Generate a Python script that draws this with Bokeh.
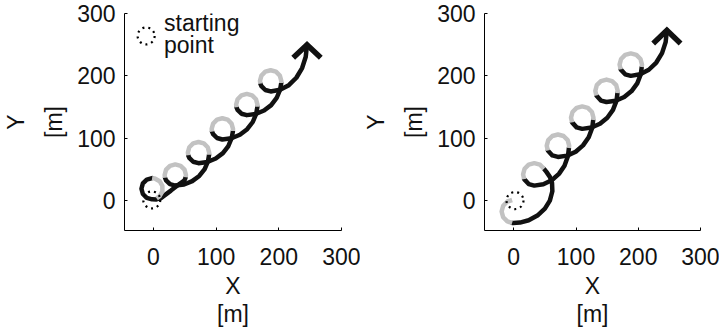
from bokeh.plotting import figure
from bokeh.layouts import row
from bokeh.models import Range1d
from bokeh.core.properties import value
from bokeh.embed import file_html
from bokeh.resources import INLINE

FONT = "Liberation Sans"
FS = "23px"
BLACK = "#111111"
GRAY = "#c2c2c2"

# ---------------- data ----------------
X_TICKS = [0, 100, 200, 300]
Y_TICKS = [0, 100, 200, 300]
X_LABEL = "X\n[m]"
Y_LABEL = "Y\n[m]"
LEGEND_TEXT = ["starting", "point"]
LEGEND_X = [17, 17]
LEGEND_Y = [284, 249]
LEGEND_MARK_X = [-11.5]
LEGEND_MARK_Y = [264]

# left panel: trajectory, split into gray and black pieces
L_GRAY_X = [
    [5.2, 10, 14.4, 14.4, 10, 2.4, -2],
    [51.6, 52, 49.7, 43.5, 35, 26.5, 20.3, 18, 18.6],
    [88.9, 89, 86.7, 80.5, 72, 63.5, 57.3, 55, 55.6],
    [126.9, 127, 124.7, 118.5, 110, 101.5, 95.3, 93, 93.6],
    [165.9, 166, 163.7, 157.5, 149, 140.5, 134.3, 132, 132.6],
    [203.9, 204, 201.7, 195.5, 187, 178.5, 172.3, 170, 170.6],
]
L_GRAY_Y = [
    [3.6, 7, 14.6, 23.4, 31, 35.4, 36],
    [37.5, 41, 49.5, 55.7, 58, 55.7, 49.5, 41, 36.6],
    [73.5, 77, 85.5, 91.7, 94, 91.7, 85.5, 77, 72.6],
    [111.5, 115, 123.5, 129.7, 132, 129.7, 123.5, 115, 110.6],
    [150.5, 154, 162.5, 168.7, 171, 168.7, 162.5, 154, 149.6],
    [188.5, 192, 200.5, 206.7, 209, 206.7, 200.5, 192, 187.6],
]
L_BLACK_X = [
    [-2, -10.5, -16.7, -19, -16.7, -10.5, -2, 5, 12, 28, 42, 49.7, 51.6],
    [18.6, 20.3, 26.5, 35, 49, 62, 73.2, 81.8, 87.2, 88.9],
    [55.6, 57.3, 63.5, 72, 86.2, 99.5, 110.9, 119.6, 125.1, 126.9],
    [93.6, 95.3, 101.5, 110, 124.5, 138, 149.6, 158.5, 164.1, 165.9],
    [132.6, 134.3, 140.5, 149, 163.2, 176.5, 187.9, 196.6, 202.1, 203.9],
    [170.6, 172.3, 178.5, 187, 202, 216, 228, 237.2, 243, 245],
]
L_BLACK_Y = [
    [36, 33.7, 27.5, 19, 10.5, 4.3, 2, 1.8, 4, 16, 27, 32.5, 37.5],
    [36.6, 32.5, 26.3, 24, 25.8, 31.1, 39.5, 50.5, 63.3, 73.5],
    [72.6, 68.5, 62.3, 60, 61.9, 67.4, 76.1, 87.5, 100.8, 111.5],
    [110.6, 106.5, 100.3, 98, 99.9, 105.5, 114.4, 126, 139.5, 150.5],
    [149.6, 145.5, 139.3, 137, 138.9, 144.4, 153.1, 164.5, 177.8, 188.5],
    [187.6, 183.5, 177.3, 175, 177.6, 185, 197, 212.5, 230.6, 250],
]
L_HEAD_X = [223, 245, 267]
L_HEAD_Y = [229, 250, 229]
L_START_X = [-2.5]
L_START_Y = [1]

# right panel
R_GRAY_X = [
    [-2.6, -10.3, -17, -19.5, -17, -10.3, -2.6],
    [48.6, 42, 33, 24, 17.4, 15, 16.7],
    [88.6, 89, 86.6, 80, 71, 62, 55.4, 53, 54.7],
    [127.6, 128, 125.6, 119, 110, 101, 94.4, 92, 93.7],
    [166.6, 167, 164.6, 158, 149, 140, 133.4, 131, 132.7],
    [205.6, 206, 203.6, 197, 188, 179, 172.4, 170, 171.7],
]
R_GRAY_Y = [
    [0.9, -1.5, -8.3, -17.5, -26.8, -33.5, -35.9],
    [51, 57.6, 60, 57.6, 51, 42, 34.4],
    [84.3, 88, 97, 103.6, 106, 103.6, 97, 88, 80.4],
    [129.3, 133, 142, 148.6, 151, 148.6, 142, 133, 125.4],
    [172.3, 176, 185, 191.6, 194, 191.6, 185, 176, 168.4],
    [214.3, 218, 227, 233.6, 236, 233.6, 227, 218, 210.4],
]
R_BLACK_X = [
    [-2.6, -1, 10, 24, 38, 50, 58, 62, 61.5, 58, 52.5, 48.6],
    [16.7, 24, 33, 47.5, 61, 72.6, 81.5, 87.1, 88.6],
    [54.7, 62, 71, 85.8, 99.5, 111.3, 120.4, 126.1, 127.6],
    [93.7, 101, 110, 124.8, 138.5, 150.3, 159.4, 165.1, 166.6],
    [132.7, 140, 149, 163.8, 177.5, 189.3, 198.4, 204.1, 205.6],
    [171.7, 179, 188, 203, 217, 229, 238.2, 244, 246],
]
R_BLACK_Y = [
    [-35.9, -36, -35.3, -31.5, -24, -13, 0, 15, 28, 38, 46, 51],
    [34.4, 26.4, 24, 26.2, 32.6, 42.8, 56, 71.4, 84.3],
    [80.4, 72.4, 70, 72.1, 78.4, 88.5, 101.5, 116.7, 129.3],
    [125.4, 117.4, 115, 117.1, 123.2, 132.9, 145.5, 160.2, 172.3],
    [168.4, 160.4, 158, 160, 166, 175.6, 188, 202.5, 214.3],
    [210.4, 202.4, 200, 202.5, 209.8, 221.4, 236.5, 254.1, 273],
]
R_HEAD_X = [224, 246, 268]
R_HEAD_Y = [252, 273, 252]
R_START_X = [2]
R_START_Y = [0]


def make_panel(width, border_left, xr, gx, gy, bx, by, hx, hy, sx, sy, legend):
    p = figure(width=width, height=335, x_range=Range1d(*xr), y_range=Range1d(-48, 300),
               output_backend="svg", toolbar_location=None,
               min_border_left=border_left, min_border_right=19,
               min_border_top=13, min_border_bottom=105)
    p.outline_line_color = None
    p.xgrid.visible = False
    p.ygrid.visible = False
    p.background_fill_color = "white"
    p.border_fill_color = "white"
    for ax, ticks in ((p.xaxis, X_TICKS), (p.yaxis, Y_TICKS)):
        ax.ticker = ticks
        ax.axis_line_color = "black"
        ax.axis_line_width = 1
        ax.major_tick_in = 3
        ax.major_tick_out = 0
        ax.major_tick_line_color = "black"
        ax.minor_tick_line_color = None
        ax.major_label_text_font = FONT
        ax.major_label_text_font_size = FS
        ax.major_label_text_color = "#111111"
        ax.axis_label_text_font = FONT
        ax.axis_label_text_font_size = FS
        ax.axis_label_text_font_style = "normal"
        ax.axis_label_text_color = "#111111"
    p.xaxis.axis_label_text_line_height = 1.1
    p.yaxis.axis_label_text_line_height = 1.45
    p.xaxis.axis_label = X_LABEL
    p.yaxis.axis_label = Y_LABEL
    p.xaxis.major_label_standoff = 17
    p.yaxis.major_label_standoff = 9
    p.xaxis.axis_label_standoff = 5
    p.yaxis.axis_label_standoff = 7

    p.multi_line(xs=bx, ys=by, line_color=BLACK, line_width=4.5,
                 line_join="round", line_cap="round")
    p.multi_line(xs=gx, ys=gy, line_color=GRAY, line_width=4.5,
                 line_join="round", line_cap="butt")
    p.line(hx, hy, line_color=BLACK, line_width=5.5, line_join="miter")
    p.scatter(sx, sy, marker="circle", size=17, fill_color=None,
              line_color="black", line_width=2.2, line_dash="2 4")

    if legend:
        p.scatter(LEGEND_MARK_X, LEGEND_MARK_Y, marker="circle", size=17, fill_color=None,
                  line_color="black", line_width=2.2, line_dash="2 4")
        p.text(x=LEGEND_X, y=LEGEND_Y, text=LEGEND_TEXT, text_font=value(FONT),
               text_font_size=FS, text_color="#111111",
               text_baseline="alphabetic", text_align="left")
    return p


p1 = make_panel(360, 124, (-46, 300), L_GRAY_X, L_GRAY_Y, L_BLACK_X, L_BLACK_Y,
                L_HEAD_X, L_HEAD_Y, L_START_X, L_START_Y, True)
p2 = make_panel(359, 123, (-47, 300), R_GRAY_X, R_GRAY_Y, R_BLACK_X, R_BLACK_Y,
                R_HEAD_X, R_HEAD_Y, R_START_X, R_START_Y, False)

layout = row(p1, p2)
open("out.html", "w").write(file_html(layout, INLINE))
